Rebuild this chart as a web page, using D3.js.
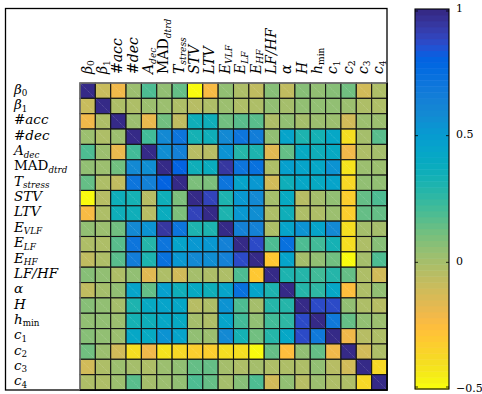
<!DOCTYPE html>
<html>
<head>
<meta charset="utf-8">
<script src="https://cdn.jsdelivr.net/npm/d3@7"></script>
<style>
  body { margin: 0; background: #fff; }
  svg { display: block; }
  text { font-family: "DejaVu Serif", "Liberation Serif", serif; fill: #000; }
</style>
</head>
<body>
<svg id="chart" width="482" height="394"></svg>
<script>
// variable names (rows and columns are the same)
const names = ["β_0", "β_1", "#acc", "#dec", "A_dec", "MAD_dtrd", "T_stress", "STV", "LTV",
  "E_VLF", "E_LF", "E_HF", "LF/HF", "α", "H", "h_min", "c_1", "c_2", "c_3", "c_4"];

// correlation values
const corr = [
  [1, -0.1, -0.2, 0.02, 0.2, 0.04, 0.15, -0.5, -0.22, 0.05, -0.03, -0.06, 0.08, -0.07, 0.08, 0.05, 0.08, 0.12, -0.12, -0.03],
  [-0.1, 1, -0.03, -0.03, 0.02, 0.03, -0.02, -0.05, -0.03, 0.02, -0.03, -0.03, 0.05, 0, 0.05, 0.05, 0.05, 0.03, -0.02, -0.02],
  [-0.2, -0.03, 1, 0.02, -0.18, 0.13, -0.07, 0.35, 0.35, 0.13, 0.16, 0.16, -0.01, 0.05, 0, 0.02, 0.02, -0.12, 0.03, 0.02],
  [0.02, -0.03, 0.02, 1, 0.22, 0.6, 0.7, 0.34, 0.35, 0.58, 0.7, 0.65, 0.04, 0.45, 0.32, 0.33, 0.42, -0.4, 0, 0.16],
  [0.2, 0.02, -0.18, 0.22, 1, 0.56, 0.63, -0.05, -0.05, 0.55, 0.28, 0.3, -0.15, 0.15, 0.4, 0.35, 0.41, -0.2, -0.02, 0],
  [0.04, 0.03, 0.13, 0.6, 0.56, 1, 0.8, 0.35, 0.39, 0.95, 0.71, 0.72, -0.02, 0.48, 0.45, 0.42, 0.55, -0.42, 0.03, 0.03],
  [0.15, -0.02, -0.07, 0.7, 0.63, 0.8, 1, 0.1, 0.1, 0.7, 0.45, 0.52, -0.12, 0.35, 0.42, 0.41, 0.45, -0.38, 0.05, 0.05],
  [-0.5, -0.05, 0.35, 0.34, -0.05, 0.35, 0.1, 1, 0.9, 0.3, 0.52, 0.58, 0, 0.4, -0.05, 0, 0.05, -0.32, 0.15, 0.18],
  [-0.22, -0.03, 0.35, 0.35, -0.05, 0.39, 0.1, 0.9, 1, 0.3, 0.53, 0.56, -0.01, 0.35, -0.03, -0.01, 0.03, -0.33, 0.15, 0.15],
  [0.05, 0.02, 0.13, 0.58, 0.55, 0.95, 0.7, 0.3, 0.3, 1, 0.63, 0.64, -0.01, 0.46, 0.54, 0.45, 0.6, -0.4, 0, 0],
  [-0.03, -0.03, 0.16, 0.7, 0.28, 0.71, 0.45, 0.52, 0.53, 0.63, 1, 0.86, 0.18, 0.72, 0.18, 0.22, 0.34, -0.4, -0.01, 0.08],
  [-0.06, -0.03, 0.16, 0.65, 0.3, 0.72, 0.52, 0.58, 0.56, 0.64, 0.86, 1, -0.3, 0.45, 0, 0.05, 0.12, -0.5, 0, 0.18],
  [0.08, 0.05, -0.01, 0.04, -0.15, -0.02, -0.12, 0, -0.01, -0.01, 0.18, -0.3, 1, 0.3, 0.28, 0.22, 0.28, 0.15, -0.02, -0.12],
  [-0.07, 0, 0.05, 0.45, 0.15, 0.48, 0.35, 0.4, 0.35, 0.46, 0.72, 0.45, 0.3, 1, 0.28, 0.27, 0.42, -0.25, -0.03, 0.05],
  [0.08, 0.05, 0, 0.32, 0.4, 0.45, 0.42, -0.05, -0.03, 0.54, 0.18, 0, 0.28, 0.28, 1, 0.88, 0.87, 0.05, -0.02, -0.05],
  [0.05, 0.05, 0.02, 0.33, 0.35, 0.42, 0.41, 0, -0.01, 0.45, 0.22, 0.05, 0.22, 0.27, 0.88, 1, 0.68, 0.15, 0.05, 0.03],
  [0.08, 0.05, 0.02, 0.42, 0.41, 0.55, 0.45, 0.05, 0.03, 0.6, 0.34, 0.12, 0.28, 0.42, 0.87, 0.68, 1, -0.2, -0.05, -0.02],
  [0.12, 0.03, -0.12, -0.4, -0.2, -0.42, -0.38, -0.32, -0.33, -0.4, -0.4, -0.5, 0.15, -0.25, 0.05, 0.15, -0.2, 1, -0.12, -0.02],
  [-0.12, -0.02, 0.03, 0, -0.02, 0.03, 0.05, 0.15, 0.15, 0, -0.01, 0, -0.02, -0.03, -0.02, 0.05, -0.05, -0.12, 1, -0.38],
  [-0.03, -0.02, 0.02, 0.16, 0, 0.03, 0.05, 0.18, 0.15, 0, 0.08, 0.18, -0.12, 0.05, -0.05, 0.03, -0.02, -0.02, -0.38, 1]
];

// colour limits and colorbar ticks
const colorLimits = [-0.5, 1];
const cbarTicks = [1, 0.5, 0, -0.5];

// MATLAB parula, 64 steps
const parula = [
  [0.2081,0.1663,0.5292],[0.2116,0.1898,0.5777],[0.2123,0.2138,0.6270],[0.2081,0.2386,0.6771],
  [0.1959,0.2645,0.7279],[0.1707,0.2919,0.7792],[0.1253,0.3242,0.8303],[0.0591,0.3598,0.8683],
  [0.0117,0.3875,0.8820],[0.0060,0.4086,0.8828],[0.0165,0.4266,0.8786],[0.0329,0.4430,0.8720],
  [0.0498,0.4586,0.8641],[0.0629,0.4737,0.8554],[0.0723,0.4887,0.8467],[0.0779,0.5040,0.8384],
  [0.0793,0.5200,0.8312],[0.0749,0.5375,0.8263],[0.0641,0.5570,0.8240],[0.0488,0.5772,0.8228],
  [0.0343,0.5966,0.8199],[0.0265,0.6137,0.8135],[0.0239,0.6287,0.8038],[0.0231,0.6418,0.7913],
  [0.0228,0.6535,0.7768],[0.0267,0.6642,0.7607],[0.0384,0.6743,0.7436],[0.0590,0.6838,0.7254],
  [0.0843,0.6928,0.7062],[0.1133,0.7015,0.6859],[0.1453,0.7098,0.6646],[0.1801,0.7177,0.6424],
  [0.2178,0.7250,0.6193],[0.2586,0.7317,0.5954],[0.3022,0.7376,0.5712],[0.3482,0.7424,0.5473],
  [0.3953,0.7459,0.5244],[0.4420,0.7481,0.5033],[0.4871,0.7491,0.4840],[0.5300,0.7491,0.4661],
  [0.5709,0.7485,0.4494],[0.6099,0.7473,0.4337],[0.6473,0.7456,0.4188],[0.6834,0.7435,0.4044],
  [0.7184,0.7411,0.3905],[0.7525,0.7384,0.3768],[0.7858,0.7356,0.3633],[0.8185,0.7327,0.3498],
  [0.8507,0.7299,0.3360],[0.8824,0.7274,0.3217],[0.9139,0.7258,0.3063],[0.9450,0.7261,0.2886],
  [0.9739,0.7314,0.2666],[0.9938,0.7455,0.2403],[0.9990,0.7653,0.2164],[0.9955,0.7861,0.1967],
  [0.9880,0.8066,0.1794],[0.9789,0.8271,0.1633],[0.9697,0.8481,0.1475],[0.9626,0.8705,0.1309],
  [0.9589,0.8949,0.1132],[0.9598,0.9218,0.0948],[0.9661,0.9514,0.0755],[0.9763,0.9831,0.0538]
].map(c => d3.rgb(c[0] * 255, c[1] * 255, c[2] * 255).formatHex());

// layout
const matrix = { left: 80, top: 83, right: 387, bottom: 390 };
const cbar = { left: 415, right: 449, top: 9, bottom: 389 };

const svg = d3.select("#chart");

// high values dark blue, low values yellow
const color = d3.scaleQuantize()
  .domain(colorLimits)
  .range(parula.slice().reverse());

const x = d3.scaleBand().domain(d3.range(names.length)).range([matrix.left, matrix.right]);
const y = d3.scaleBand().domain(d3.range(names.length)).range([matrix.top, matrix.bottom]);

// outer frame round labels and matrix
svg.append("rect")
  .attr("x", 5.5).attr("y", 8.5)
  .attr("width", matrix.right - 5.5).attr("height", matrix.bottom - 8.5)
  .attr("fill", "none").attr("stroke", "#000").attr("stroke-width", 1.3);

// cells
const cells = [];
corr.forEach((row, i) => row.forEach((v, j) => cells.push({ i, j, v })));

const cellG = svg.append("g");
cellG.selectAll("rect")
  .data(cells)
  .join("rect")
  .attr("x", d => x(d.j))
  .attr("y", d => y(d.i))
  .attr("width", x.bandwidth())
  .attr("height", y.bandwidth())
  .attr("fill", d => color(d.v))
  .attr("stroke", "#151515")
  .attr("stroke-width", 1.1);

// faint diagonal seam of each patch
cellG.selectAll("line")
  .data(cells)
  .join("line")
  .attr("x1", d => x(d.j) + 1).attr("y1", d => y(d.i) + 1)
  .attr("x2", d => x(d.j) + x.bandwidth() - 1).attr("y2", d => y(d.i) + y.bandwidth() - 1)
  .attr("stroke", "#fff").attr("stroke-opacity", 0.3)
  .attr("stroke-width", 0.7).attr("stroke-dasharray", "1,1");

// grey border on the top and left of the matrix
svg.append("path")
  .attr("d", `M${matrix.right},${matrix.top}H${matrix.left}V${matrix.bottom}`)
  .attr("fill", "none").attr("stroke", "#777").attr("stroke-width", 1.5);

// right and bottom edges of the frame over the cells
svg.append("path")
  .attr("d", `M${matrix.right},${matrix.top}V${matrix.bottom}H${matrix.left}`)
  .attr("fill", "none").attr("stroke", "#000").attr("stroke-width", 1.5);

// label text with italics and subscripts
function labelParts(name) {
  const [main, sub] = name.split("_");
  const parts = main.split(/(#|MAD)/).filter(s => s.length)
    .map(t => ({ t, italic: !(t === "#" || t === "MAD"), sub: false }));
  if (sub) parts.push({ t: sub, italic: !(/^\d+$/.test(sub) || sub === "min"), sub: true });
  return parts;
}

function fillLabel(text, name) {
  labelParts(name).forEach(p => {
    text.append("tspan")
      .attr("font-style", p.italic ? "italic" : "normal")
      .attr("font-size", p.sub ? "0.65em" : null)
      .attr("dy", p.sub ? 2.5 : null)
      .text(p.t);
  });
}

// row labels
svg.append("g").selectAll("text")
  .data(names)
  .join("text")
  .attr("x", 14)
  .attr("y", (d, i) => y(i) + y.bandwidth() / 2 + 3)
  .attr("font-size", 13.5)
  .each(function (d) { fillLabel(d3.select(this), d); });

// column labels, turned upright
svg.append("g").selectAll("text")
  .data(names)
  .join("text")
  .attr("transform", (d, i) => `translate(${x(i) + x.bandwidth() / 2},${matrix.top - 9}) rotate(-90)`)
  .attr("x", 0)
  .attr("y", 4)
  .attr("font-size", 14)
  .each(function (d) { fillLabel(d3.select(this), d); });

// colorbar
const cy = d3.scaleLinear().domain(colorLimits).range([cbar.bottom, cbar.top]);
const edges = [colorLimits[0], ...color.thresholds(), colorLimits[1]];
const bands = d3.pairs(edges);

svg.append("g").selectAll("rect")
  .data(bands)
  .join("rect")
  .attr("x", cbar.left)
  .attr("y", d => cy(d[1]))
  .attr("width", cbar.right - cbar.left)
  .attr("height", d => cy(d[0]) - cy(d[1]) + 0.5)
  .attr("fill", d => color((d[0] + d[1]) / 2));

svg.append("rect")
  .attr("x", cbar.left).attr("y", cbar.top)
  .attr("width", cbar.right - cbar.left).attr("height", cbar.bottom - cbar.top)
  .attr("fill", "none").attr("stroke", "#000").attr("stroke-width", 1.1);

const tickY = v => Math.min(Math.max(cy(v), cbar.top + 2), cbar.bottom - 2);
const tickG = svg.append("g");
tickG.selectAll("path")
  .data(cbarTicks)
  .join("path")
  .attr("d", v => `M${cbar.left},${tickY(v)}h3M${cbar.right},${tickY(v)}h-3`)
  .attr("stroke", "#000").attr("stroke-width", 0.8);

tickG.selectAll("text")
  .data(cbarTicks)
  .join("text")
  .attr("x", cbar.right + 7)
  .attr("y", v => cy(v) + 2.5)
  .attr("font-size", 11)
  .text(d3.format("~g"));
</script>
</body>
</html>
